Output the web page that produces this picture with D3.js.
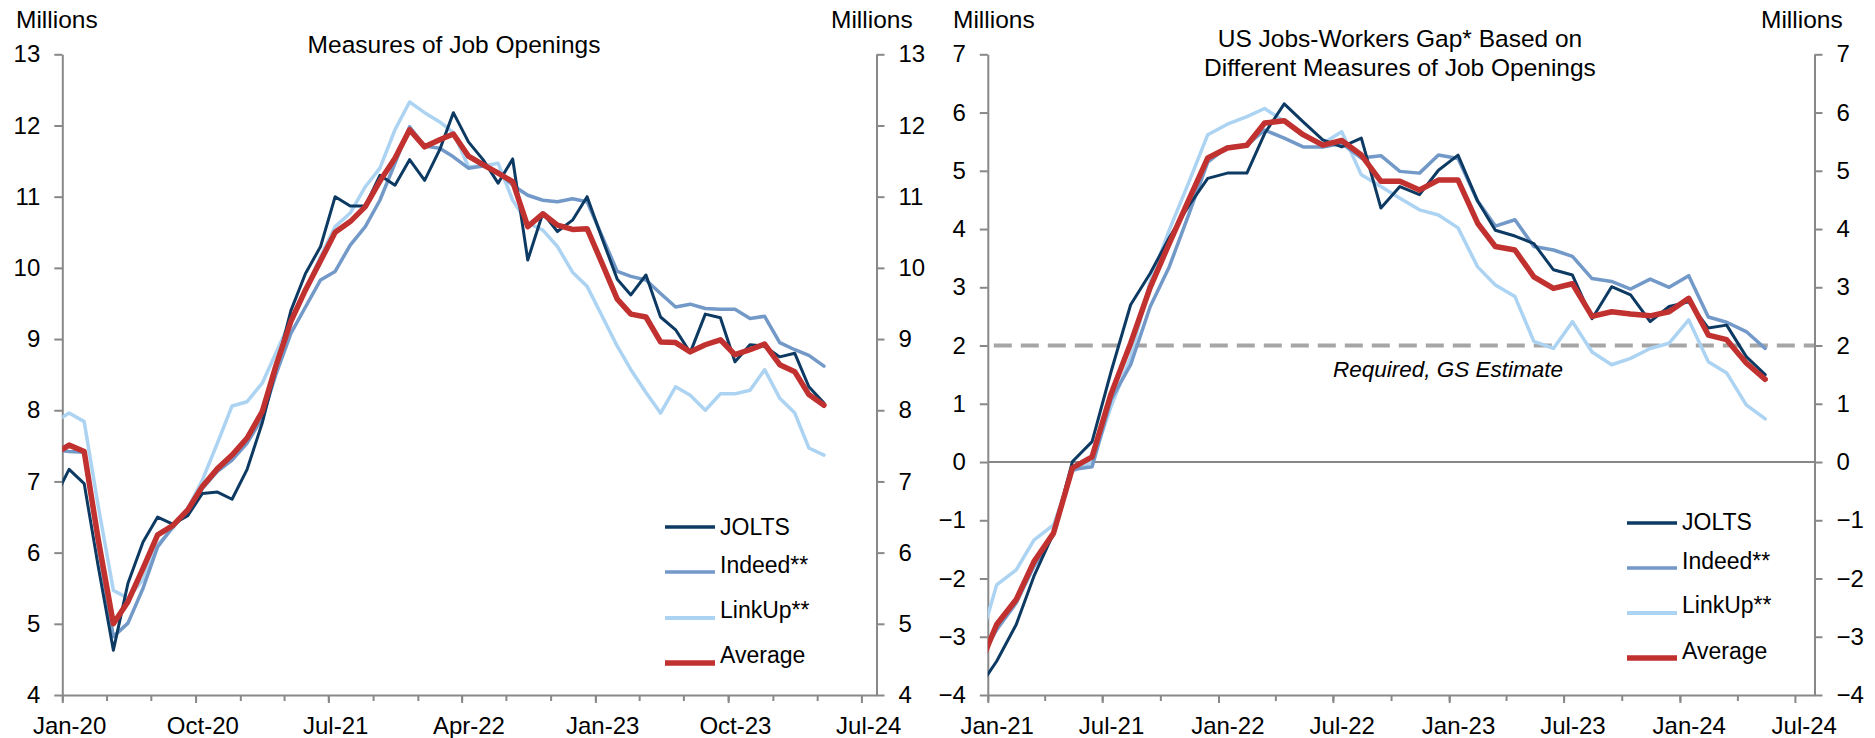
<!DOCTYPE html>
<html><head><meta charset="utf-8">
<script src="https://cdn.jsdelivr.net/npm/d3@7"></script>
<style>
body{margin:0;background:#fff}
text{font-family:"Liberation Sans",Arial,sans-serif;fill:#000}
</style>
</head><body>
<svg id="c" width="1875" height="738"></svg>
<script>
// ---------------- DATA ----------------
// Left chart: monthly, Dec-2019 .. Apr-2024 (Dec-2019 lies before the axis start and is clipped)
const leftStart = "2019-12", leftEnd = "2024-04";
const jolts1 = [6.75,
  7.17,6.97,5.80,4.63,5.57,6.15,6.50,6.40,6.52,6.83,6.85,6.75,
  7.17,7.82,8.57,9.40,9.92,10.30,11.00,10.87,10.87,11.30,11.16,11.52,
  11.23,11.66,12.18,11.77,11.52,11.19,11.53,10.11,10.77,10.51,10.67,11.00,
  10.41,9.84,9.62,9.90,9.31,9.13,8.81,9.35,9.30,8.68,8.92,8.90,
  8.75,8.80,8.33,8.10];
const indeed1 = [7.44,
  7.42,7.41,6.10,4.82,5.01,5.50,6.08,6.36,6.57,6.90,7.14,7.30,
  7.54,7.89,8.50,9.08,9.45,9.83,9.95,10.32,10.58,10.95,11.47,11.98,
  11.71,11.68,11.56,11.40,11.43,11.35,11.16,11.02,10.95,10.93,10.97,10.93,
  10.44,9.95,9.88,9.83,9.64,9.45,9.49,9.43,9.42,9.42,9.29,9.32,
  8.95,8.85,8.77,8.62];
const linkup1 = [7.83,
  7.96,7.84,6.65,5.47,5.36,5.62,6.11,6.34,6.62,7.02,7.54,8.06,
  8.12,8.38,8.80,9.27,9.69,10.16,10.58,10.77,11.14,11.40,11.94,12.33,
  12.18,12.05,11.90,11.42,11.43,11.47,10.95,10.63,10.53,10.30,9.94,9.74,
  9.32,8.90,8.57,8.25,7.96,8.33,8.21,8.00,8.23,8.23,8.28,8.57,
  8.17,7.96,7.47,7.37];
const average1 = [7.38,
  7.51,7.42,6.18,5.00,5.31,5.78,6.25,6.38,6.60,6.93,7.18,7.37,
  7.61,7.98,8.62,9.25,9.69,10.10,10.50,10.65,10.86,11.22,11.54,11.94,
  11.70,11.80,11.88,11.57,11.45,11.33,11.21,10.58,10.76,10.60,10.54,10.55,
  10.06,9.56,9.35,9.31,8.96,8.95,8.82,8.92,8.99,8.78,8.85,8.93,
  8.64,8.54,8.22,8.07];
const leftXLabels = ["Jan-20","Oct-20","Jul-21","Apr-22","Jan-23","Oct-23","Jul-24"];
const leftYTicks = [4,5,6,7,8,9,10,11,12,13];

// Right chart: monthly, Dec-2020 .. May-2024 (Dec-2020 clipped at axis)
const rightStart = "2020-12", rightEnd = "2024-05";
const jolts2 = [-3.92,
  -3.42,-2.79,-1.96,-1.22,0.01,0.35,1.55,2.70,3.24,3.85,4.40,4.87,
  4.96,4.96,5.64,6.15,5.84,5.53,5.41,5.56,4.36,4.73,4.59,5.01,
  5.27,4.48,3.98,3.88,3.75,3.30,3.21,2.46,3.01,2.87,2.41,2.67,
  2.75,2.30,2.35,1.81,1.50];
const indeed2 = [-3.45,
  -2.88,-2.42,-1.79,-1.25,-0.13,-0.08,1.07,1.67,2.67,3.35,4.25,5.15,
  5.41,5.44,5.70,5.56,5.41,5.41,5.47,5.22,5.26,4.99,4.96,5.27,
  5.21,4.48,4.05,4.16,3.70,3.64,3.53,3.15,3.10,2.97,3.14,3.00,
  3.20,2.49,2.40,2.24,1.95];
const linkup2 = [-3.26,
  -2.11,-1.85,-1.34,-1.08,-0.16,0.00,0.95,1.80,3.10,3.98,4.80,5.62,
  5.80,5.93,6.07,5.85,5.60,5.47,5.67,4.93,4.73,4.53,4.33,4.24,
  4.02,3.35,3.04,2.84,2.07,1.95,2.41,1.89,1.67,1.78,1.95,2.04,
  2.44,1.72,1.53,0.98,0.74];
const average2 = [-3.60,
  -2.79,-2.36,-1.71,-1.22,-0.10,0.09,1.17,2.04,3.00,3.75,4.50,5.22,
  5.39,5.44,5.82,5.86,5.62,5.44,5.52,5.27,4.82,4.82,4.67,4.84,
  4.84,4.10,3.70,3.64,3.18,2.98,3.06,2.50,2.58,2.54,2.51,2.58,
  2.81,2.18,2.10,1.70,1.42];
const rightXLabels = ["Jan-21","Jul-21","Jan-22","Jul-22","Jan-23","Jul-23","Jan-24","Jul-24"];
const rightYTicks = [-4,-3,-2,-1,0,1,2,3,4,5,6,7];
const requiredLevel = 2;

const seriesNames = ["JOLTS","Indeed**","LinkUp**","Average"];
const seriesColors = {"JOLTS":"#0d3a63","Indeed**":"#7299c8","LinkUp**":"#acd4f2","Average":"#c1312f"};
const seriesWidths = {"JOLTS":3,"Indeed**":3.5,"LinkUp**":3.5,"Average":5.5};
const legendWidths = {"JOLTS":3.5,"Indeed**":3.5,"LinkUp**":4,"Average":5.5};

// ---------------- DRAW ----------------
const svg = d3.select("#c");
svg.append("rect").attr("width",1875).attr("height",738).attr("fill","#fff");
const AXIS = "#888888";
const parse = d3.utcParse("%Y-%m");

function panel(cfg){
  const g = svg.append("g");
  const months = d3.utcMonth.range(parse(cfg.start), d3.utcMonth.offset(parse(cfg.end),1));
  const mid = m => d3.utcDay.offset(m, 14);
  const x = d3.scaleUtc().domain([parse(cfg.axisStart), parse(cfg.axisEnd)]).range([cfg.x0, cfg.x1]);
  const y = d3.scaleLinear().domain(cfg.yDomain).range([cfg.yBottom, cfg.yTop]);

  const clipId = "clip" + cfg.id;
  svg.append("clipPath").attr("id", clipId).append("rect")
    .attr("x", cfg.x0).attr("y", 0).attr("width", cfg.x1 - cfg.x0).attr("height", 738);

  if (cfg.zeroLine) {
    g.append("line").attr("x1",cfg.x0).attr("x2",cfg.x1).attr("y1",y(0)).attr("y2",y(0))
      .attr("stroke",AXIS).attr("stroke-width",2);
  }
  if (cfg.refLine !== undefined) {
    g.append("line").attr("x1",cfg.x0+6).attr("x2",cfg.x1).attr("y1",y(cfg.refLine)).attr("y2",y(cfg.refLine))
      .attr("stroke","#a6a6a6").attr("stroke-width",4).attr("stroke-dasharray","18,9");
    g.append("text").attr("x",cfg.refLabelX).attr("y",y(cfg.refLine)+31)
      .attr("text-anchor","middle").attr("font-size",22.5).attr("font-style","italic")
      .text(cfg.refLabel);
  }

  const yl = g.append("g").attr("transform",`translate(${cfg.x0},0)`)
    .call(d3.axisLeft(y).tickValues(cfg.yTicks).tickSize(8).tickSizeOuter(0).tickPadding(14).tickFormat(d3.format("d")));
  const yr = g.append("g").attr("transform",`translate(${cfg.x1},0)`)
    .call(d3.axisRight(y).tickValues(cfg.yTicks).tickSize(8).tickSizeOuter(0).tickPadding(14).tickFormat(d3.format("d")));
  const minor = d3.utcMonth.every(3).range(parse(cfg.axisStart), d3.utcMonth.offset(parse(cfg.axisEnd),-1));
  const xa = g.append("g").attr("transform",`translate(0,${cfg.yBottom})`)
    .call(d3.axisBottom(x).tickValues(minor).tickSize(6).tickSizeOuter(0).tickFormat(""));
  const major = cfg.xLabels.map(s => d3.utcParse("%b-%y")(s));
  const xm = g.append("g").attr("transform",`translate(0,${cfg.yBottom})`)
    .call(d3.axisBottom(x).tickValues(major).tickSize(8).tickSizeOuter(0).tickFormat(""));
  xm.select(".domain").remove();
  const xl = g.append("g").attr("transform",`translate(0,${cfg.yBottom})`)
    .call(d3.axisBottom(x).tickValues(major.map(mid)).tickSize(0).tickPadding(22)
      .tickFormat((d,i)=>cfg.xLabels[i]));
  xl.select(".domain").remove();
  [yl,yr,xa,xm,xl].forEach(a=>{
    a.selectAll(".domain").attr("stroke",AXIS).attr("stroke-width",2);
    a.selectAll(".tick line").attr("stroke",AXIS).attr("stroke-width",2);
    a.selectAll("text").attr("font-size",24).attr("fill","#000")
      .attr("font-family",'"Liberation Sans",Arial,sans-serif');
  });

  const line = d3.line().x((d,i)=>x(mid(months[i]))).y(d=>y(d));
  const lg = g.append("g").attr("clip-path",`url(#${clipId})`);
  const order = ["LinkUp**","Indeed**","JOLTS","Average"];
  order.forEach(n=>{
    lg.append("path").datum(cfg.data[n]).attr("d",line).attr("fill","none")
      .attr("stroke",seriesColors[n]).attr("stroke-width",seriesWidths[n])
      .attr("stroke-linejoin","round").attr("stroke-linecap","round");
  });

  seriesNames.forEach((n,i)=>{
    const ly = cfg.legendY[i];
    g.append("line").attr("x1",cfg.legendX).attr("x2",cfg.legendX+50).attr("y1",ly).attr("y2",ly)
      .attr("stroke",seriesColors[n]).attr("stroke-width",legendWidths[n]);
    g.append("text").attr("x",cfg.legendX+55).attr("y",cfg.legendTextY[i])
      .attr("font-size",23).text(n);
  });

  g.append("text").attr("x",cfg.unitL).attr("y",28).attr("font-size",24.5).text("Millions");
  g.append("text").attr("x",cfg.unitR).attr("y",28).attr("font-size",24.5).text("Millions");
  cfg.title.forEach((t,i)=>{
    g.append("text").attr("x",cfg.titleX).attr("y",cfg.titleY + i*28.5)
      .attr("text-anchor","middle").attr("font-size",24.5).text(t);
  });
}

panel({
  id:"L", start:leftStart, end:leftEnd, axisStart:"2020-01", axisEnd:"2024-08",
  x0:62.3, x1:876.5, yTop:54.3, yBottom:695, yDomain:[4,13], yTicks:leftYTicks,
  xLabels:leftXLabels,
  data:{"JOLTS":jolts1,"Indeed**":indeed1,"LinkUp**":linkup1,"Average":average1},
  legendX:665, legendY:[527,572,618,663], legendTextY:[535,573,618,663],
  unitL:16, unitR:831, title:["Measures of Job Openings"], titleX:454, titleY:53
});
panel({
  id:"R", start:rightStart, end:rightEnd, axisStart:"2021-01", axisEnd:"2024-08",
  x0:987.8, x1:1814.5, yTop:54.3, yBottom:695, yDomain:[-4,7], yTicks:rightYTicks,
  xLabels:rightXLabels, zeroLine:true, refLine:requiredLevel, refLabel:"Required, GS Estimate", refLabelX:1448,
  data:{"JOLTS":jolts2,"Indeed**":indeed2,"LinkUp**":linkup2,"Average":average2},
  legendX:1627, legendY:[523,568,613,658], legendTextY:[530,569,613,659],
  unitL:953, unitR:1761, title:["US Jobs-Workers Gap* Based on","Different Measures of Job Openings"], titleX:1400, titleY:47
});
</script>
</body></html>
